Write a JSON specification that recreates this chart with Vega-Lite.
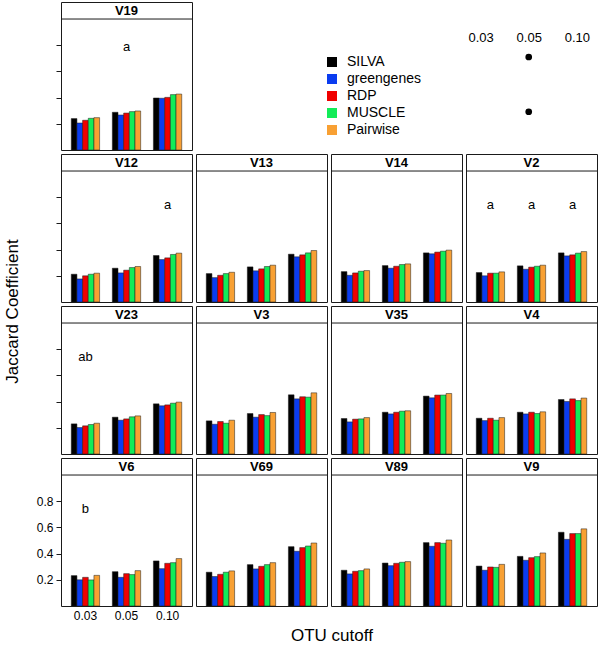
{
"$schema": "https://vega.github.io/schema/vega-lite/v6.json",
"padding": {"left": 3, "top": 1, "right": 3, "bottom": 2},
"config": {
  "font": "Liberation Sans",
  "view": {"stroke": "#1a1a1a", "strokeWidth": 1},
  "legend": {"orient": "none", "legendX": 264, "legendY": 53, "symbolType": "square", "symbolSize": 100, "symbolStrokeWidth": 0, "labelFontSize": 14, "labelColor": "black", "labelOffset": 8, "rowPadding": 3},
  "axis": {"labelColor": "black", "tickColor": "#1a1a1a", "labelFontSize": 12},
  "text": {"color": "black"}
},
"datasets": {
  "bars": [
    {"region":"V19","cutoff":"0.03","method":"SILVA","jaccard":0.240},{"region":"V19","cutoff":"0.03","method":"greengenes","jaccard":0.206},{"region":"V19","cutoff":"0.03","method":"RDP","jaccard":0.227},{"region":"V19","cutoff":"0.03","method":"MUSCLE","jaccard":0.242},{"region":"V19","cutoff":"0.03","method":"Pairwise","jaccard":0.247},
    {"region":"V19","cutoff":"0.05","method":"SILVA","jaccard":0.288},{"region":"V19","cutoff":"0.05","method":"greengenes","jaccard":0.267},{"region":"V19","cutoff":"0.05","method":"RDP","jaccard":0.282},{"region":"V19","cutoff":"0.05","method":"MUSCLE","jaccard":0.293},{"region":"V19","cutoff":"0.05","method":"Pairwise","jaccard":0.298},
    {"region":"V19","cutoff":"0.10","method":"SILVA","jaccard":0.397},{"region":"V19","cutoff":"0.10","method":"greengenes","jaccard":0.395},{"region":"V19","cutoff":"0.10","method":"RDP","jaccard":0.402},{"region":"V19","cutoff":"0.10","method":"MUSCLE","jaccard":0.423},{"region":"V19","cutoff":"0.10","method":"Pairwise","jaccard":0.427},
    {"region":"V12","cutoff":"0.03","method":"SILVA","jaccard":0.212},{"region":"V12","cutoff":"0.03","method":"greengenes","jaccard":0.176},{"region":"V12","cutoff":"0.03","method":"RDP","jaccard":0.200},{"region":"V12","cutoff":"0.03","method":"MUSCLE","jaccard":0.212},{"region":"V12","cutoff":"0.03","method":"Pairwise","jaccard":0.220},
    {"region":"V12","cutoff":"0.05","method":"SILVA","jaccard":0.258},{"region":"V12","cutoff":"0.05","method":"greengenes","jaccard":0.222},{"region":"V12","cutoff":"0.05","method":"RDP","jaccard":0.243},{"region":"V12","cutoff":"0.05","method":"MUSCLE","jaccard":0.263},{"region":"V12","cutoff":"0.05","method":"Pairwise","jaccard":0.271},
    {"region":"V12","cutoff":"0.10","method":"SILVA","jaccard":0.355},{"region":"V12","cutoff":"0.10","method":"greengenes","jaccard":0.324},{"region":"V12","cutoff":"0.10","method":"RDP","jaccard":0.337},{"region":"V12","cutoff":"0.10","method":"MUSCLE","jaccard":0.363},{"region":"V12","cutoff":"0.10","method":"Pairwise","jaccard":0.373},
    {"region":"V13","cutoff":"0.03","method":"SILVA","jaccard":0.217},{"region":"V13","cutoff":"0.03","method":"greengenes","jaccard":0.186},{"region":"V13","cutoff":"0.03","method":"RDP","jaccard":0.204},{"region":"V13","cutoff":"0.03","method":"MUSCLE","jaccard":0.217},{"region":"V13","cutoff":"0.03","method":"Pairwise","jaccard":0.227},
    {"region":"V13","cutoff":"0.05","method":"SILVA","jaccard":0.268},{"region":"V13","cutoff":"0.05","method":"greengenes","jaccard":0.238},{"region":"V13","cutoff":"0.05","method":"RDP","jaccard":0.253},{"region":"V13","cutoff":"0.05","method":"MUSCLE","jaccard":0.271},{"region":"V13","cutoff":"0.05","method":"Pairwise","jaccard":0.281},
    {"region":"V13","cutoff":"0.10","method":"SILVA","jaccard":0.365},{"region":"V13","cutoff":"0.10","method":"greengenes","jaccard":0.345},{"region":"V13","cutoff":"0.10","method":"RDP","jaccard":0.360},{"region":"V13","cutoff":"0.10","method":"MUSCLE","jaccard":0.375},{"region":"V13","cutoff":"0.10","method":"Pairwise","jaccard":0.393},
    {"region":"V14","cutoff":"0.03","method":"SILVA","jaccard":0.232},{"region":"V14","cutoff":"0.03","method":"greengenes","jaccard":0.204},{"region":"V14","cutoff":"0.03","method":"RDP","jaccard":0.222},{"region":"V14","cutoff":"0.03","method":"MUSCLE","jaccard":0.235},{"region":"V14","cutoff":"0.03","method":"Pairwise","jaccard":0.240},
    {"region":"V14","cutoff":"0.05","method":"SILVA","jaccard":0.278},{"region":"V14","cutoff":"0.05","method":"greengenes","jaccard":0.258},{"region":"V14","cutoff":"0.05","method":"RDP","jaccard":0.273},{"region":"V14","cutoff":"0.05","method":"MUSCLE","jaccard":0.286},{"region":"V14","cutoff":"0.05","method":"Pairwise","jaccard":0.291},
    {"region":"V14","cutoff":"0.10","method":"SILVA","jaccard":0.375},{"region":"V14","cutoff":"0.10","method":"greengenes","jaccard":0.368},{"region":"V14","cutoff":"0.10","method":"RDP","jaccard":0.381},{"region":"V14","cutoff":"0.10","method":"MUSCLE","jaccard":0.388},{"region":"V14","cutoff":"0.10","method":"Pairwise","jaccard":0.396},
    {"region":"V2","cutoff":"0.03","method":"SILVA","jaccard":0.225},{"region":"V2","cutoff":"0.03","method":"greengenes","jaccard":0.200},{"region":"V2","cutoff":"0.03","method":"RDP","jaccard":0.220},{"region":"V2","cutoff":"0.03","method":"MUSCLE","jaccard":0.220},{"region":"V2","cutoff":"0.03","method":"Pairwise","jaccard":0.230},
    {"region":"V2","cutoff":"0.05","method":"SILVA","jaccard":0.276},{"region":"V2","cutoff":"0.05","method":"greengenes","jaccard":0.250},{"region":"V2","cutoff":"0.05","method":"RDP","jaccard":0.266},{"region":"V2","cutoff":"0.05","method":"MUSCLE","jaccard":0.273},{"region":"V2","cutoff":"0.05","method":"Pairwise","jaccard":0.281},
    {"region":"V2","cutoff":"0.10","method":"SILVA","jaccard":0.375},{"region":"V2","cutoff":"0.10","method":"greengenes","jaccard":0.352},{"region":"V2","cutoff":"0.10","method":"RDP","jaccard":0.360},{"region":"V2","cutoff":"0.10","method":"MUSCLE","jaccard":0.373},{"region":"V2","cutoff":"0.10","method":"Pairwise","jaccard":0.385},
    {"region":"V23","cutoff":"0.03","method":"SILVA","jaccard":0.230},{"region":"V23","cutoff":"0.03","method":"greengenes","jaccard":0.202},{"region":"V23","cutoff":"0.03","method":"RDP","jaccard":0.215},{"region":"V23","cutoff":"0.03","method":"MUSCLE","jaccard":0.225},{"region":"V23","cutoff":"0.03","method":"Pairwise","jaccard":0.235},
    {"region":"V23","cutoff":"0.05","method":"SILVA","jaccard":0.281},{"region":"V23","cutoff":"0.05","method":"greengenes","jaccard":0.258},{"region":"V23","cutoff":"0.05","method":"RDP","jaccard":0.268},{"region":"V23","cutoff":"0.05","method":"MUSCLE","jaccard":0.284},{"region":"V23","cutoff":"0.05","method":"Pairwise","jaccard":0.291},
    {"region":"V23","cutoff":"0.10","method":"SILVA","jaccard":0.383},{"region":"V23","cutoff":"0.10","method":"greengenes","jaccard":0.368},{"region":"V23","cutoff":"0.10","method":"RDP","jaccard":0.375},{"region":"V23","cutoff":"0.10","method":"MUSCLE","jaccard":0.388},{"region":"V23","cutoff":"0.10","method":"Pairwise","jaccard":0.396},
    {"region":"V3","cutoff":"0.03","method":"SILVA","jaccard":0.253},{"region":"V3","cutoff":"0.03","method":"greengenes","jaccard":0.227},{"region":"V3","cutoff":"0.03","method":"RDP","jaccard":0.248},{"region":"V3","cutoff":"0.03","method":"MUSCLE","jaccard":0.235},{"region":"V3","cutoff":"0.03","method":"Pairwise","jaccard":0.258},
    {"region":"V3","cutoff":"0.05","method":"SILVA","jaccard":0.309},{"region":"V3","cutoff":"0.05","method":"greengenes","jaccard":0.281},{"region":"V3","cutoff":"0.05","method":"RDP","jaccard":0.301},{"region":"V3","cutoff":"0.05","method":"MUSCLE","jaccard":0.293},{"region":"V3","cutoff":"0.05","method":"Pairwise","jaccard":0.317},
    {"region":"V3","cutoff":"0.10","method":"SILVA","jaccard":0.452},{"region":"V3","cutoff":"0.10","method":"greengenes","jaccard":0.421},{"region":"V3","cutoff":"0.10","method":"RDP","jaccard":0.437},{"region":"V3","cutoff":"0.10","method":"MUSCLE","jaccard":0.434},{"region":"V3","cutoff":"0.10","method":"Pairwise","jaccard":0.467},
    {"region":"V35","cutoff":"0.03","method":"SILVA","jaccard":0.271},{"region":"V35","cutoff":"0.03","method":"greengenes","jaccard":0.245},{"region":"V35","cutoff":"0.03","method":"RDP","jaccard":0.266},{"region":"V35","cutoff":"0.03","method":"MUSCLE","jaccard":0.268},{"region":"V35","cutoff":"0.03","method":"Pairwise","jaccard":0.278},
    {"region":"V35","cutoff":"0.05","method":"SILVA","jaccard":0.319},{"region":"V35","cutoff":"0.05","method":"greengenes","jaccard":0.306},{"region":"V35","cutoff":"0.05","method":"RDP","jaccard":0.319},{"region":"V35","cutoff":"0.05","method":"MUSCLE","jaccard":0.327},{"region":"V35","cutoff":"0.05","method":"Pairwise","jaccard":0.330},
    {"region":"V35","cutoff":"0.10","method":"SILVA","jaccard":0.442},{"region":"V35","cutoff":"0.10","method":"greengenes","jaccard":0.429},{"region":"V35","cutoff":"0.10","method":"RDP","jaccard":0.450},{"region":"V35","cutoff":"0.10","method":"MUSCLE","jaccard":0.450},{"region":"V35","cutoff":"0.10","method":"Pairwise","jaccard":0.462},
    {"region":"V4","cutoff":"0.03","method":"SILVA","jaccard":0.273},{"region":"V4","cutoff":"0.03","method":"greengenes","jaccard":0.255},{"region":"V4","cutoff":"0.03","method":"RDP","jaccard":0.273},{"region":"V4","cutoff":"0.03","method":"MUSCLE","jaccard":0.258},{"region":"V4","cutoff":"0.03","method":"Pairwise","jaccard":0.278},
    {"region":"V4","cutoff":"0.05","method":"SILVA","jaccard":0.319},{"region":"V4","cutoff":"0.05","method":"greengenes","jaccard":0.306},{"region":"V4","cutoff":"0.05","method":"RDP","jaccard":0.319},{"region":"V4","cutoff":"0.05","method":"MUSCLE","jaccard":0.309},{"region":"V4","cutoff":"0.05","method":"Pairwise","jaccard":0.322},
    {"region":"V4","cutoff":"0.10","method":"SILVA","jaccard":0.416},{"region":"V4","cutoff":"0.10","method":"greengenes","jaccard":0.401},{"region":"V4","cutoff":"0.10","method":"RDP","jaccard":0.421},{"region":"V4","cutoff":"0.10","method":"MUSCLE","jaccard":0.408},{"region":"V4","cutoff":"0.10","method":"Pairwise","jaccard":0.427},
    {"region":"V6","cutoff":"0.03","method":"SILVA","jaccard":0.232},{"region":"V6","cutoff":"0.03","method":"greengenes","jaccard":0.200},{"region":"V6","cutoff":"0.03","method":"RDP","jaccard":0.219},{"region":"V6","cutoff":"0.03","method":"MUSCLE","jaccard":0.199},{"region":"V6","cutoff":"0.03","method":"Pairwise","jaccard":0.234},
    {"region":"V6","cutoff":"0.05","method":"SILVA","jaccard":0.262},{"region":"V6","cutoff":"0.05","method":"greengenes","jaccard":0.219},{"region":"V6","cutoff":"0.05","method":"RDP","jaccard":0.247},{"region":"V6","cutoff":"0.05","method":"MUSCLE","jaccard":0.240},{"region":"V6","cutoff":"0.05","method":"Pairwise","jaccard":0.270},
    {"region":"V6","cutoff":"0.10","method":"SILVA","jaccard":0.344},{"region":"V6","cutoff":"0.10","method":"greengenes","jaccard":0.285},{"region":"V6","cutoff":"0.10","method":"RDP","jaccard":0.326},{"region":"V6","cutoff":"0.10","method":"MUSCLE","jaccard":0.331},{"region":"V6","cutoff":"0.10","method":"Pairwise","jaccard":0.362},
    {"region":"V69","cutoff":"0.03","method":"SILVA","jaccard":0.258},{"region":"V69","cutoff":"0.03","method":"greengenes","jaccard":0.225},{"region":"V69","cutoff":"0.03","method":"RDP","jaccard":0.242},{"region":"V69","cutoff":"0.03","method":"MUSCLE","jaccard":0.258},{"region":"V69","cutoff":"0.03","method":"Pairwise","jaccard":0.268},
    {"region":"V69","cutoff":"0.05","method":"SILVA","jaccard":0.316},{"region":"V69","cutoff":"0.05","method":"greengenes","jaccard":0.283},{"region":"V69","cutoff":"0.05","method":"RDP","jaccard":0.303},{"region":"V69","cutoff":"0.05","method":"MUSCLE","jaccard":0.316},{"region":"V69","cutoff":"0.05","method":"Pairwise","jaccard":0.331},
    {"region":"V69","cutoff":"0.10","method":"SILVA","jaccard":0.453},{"region":"V69","cutoff":"0.10","method":"greengenes","jaccard":0.418},{"region":"V69","cutoff":"0.10","method":"RDP","jaccard":0.446},{"region":"V69","cutoff":"0.10","method":"MUSCLE","jaccard":0.458},{"region":"V69","cutoff":"0.10","method":"Pairwise","jaccard":0.481},
    {"region":"V89","cutoff":"0.03","method":"SILVA","jaccard":0.273},{"region":"V89","cutoff":"0.03","method":"greengenes","jaccard":0.245},{"region":"V89","cutoff":"0.03","method":"RDP","jaccard":0.265},{"region":"V89","cutoff":"0.03","method":"MUSCLE","jaccard":0.270},{"region":"V89","cutoff":"0.03","method":"Pairwise","jaccard":0.283},
    {"region":"V89","cutoff":"0.05","method":"SILVA","jaccard":0.328},{"region":"V89","cutoff":"0.05","method":"greengenes","jaccard":0.308},{"region":"V89","cutoff":"0.05","method":"RDP","jaccard":0.326},{"region":"V89","cutoff":"0.05","method":"MUSCLE","jaccard":0.334},{"region":"V89","cutoff":"0.05","method":"Pairwise","jaccard":0.339},
    {"region":"V89","cutoff":"0.10","method":"SILVA","jaccard":0.484},{"region":"V89","cutoff":"0.10","method":"greengenes","jaccard":0.456},{"region":"V89","cutoff":"0.10","method":"RDP","jaccard":0.484},{"region":"V89","cutoff":"0.10","method":"MUSCLE","jaccard":0.479},{"region":"V89","cutoff":"0.10","method":"Pairwise","jaccard":0.504},
    {"region":"V9","cutoff":"0.03","method":"SILVA","jaccard":0.305},{"region":"V9","cutoff":"0.03","method":"greengenes","jaccard":0.273},{"region":"V9","cutoff":"0.03","method":"RDP","jaccard":0.298},{"region":"V9","cutoff":"0.03","method":"MUSCLE","jaccard":0.295},{"region":"V9","cutoff":"0.03","method":"Pairwise","jaccard":0.318},
    {"region":"V9","cutoff":"0.05","method":"SILVA","jaccard":0.379},{"region":"V9","cutoff":"0.05","method":"greengenes","jaccard":0.349},{"region":"V9","cutoff":"0.05","method":"RDP","jaccard":0.369},{"region":"V9","cutoff":"0.05","method":"MUSCLE","jaccard":0.377},{"region":"V9","cutoff":"0.05","method":"Pairwise","jaccard":0.405},
    {"region":"V9","cutoff":"0.10","method":"SILVA","jaccard":0.563},{"region":"V9","cutoff":"0.10","method":"greengenes","jaccard":0.509},{"region":"V9","cutoff":"0.10","method":"RDP","jaccard":0.553},{"region":"V9","cutoff":"0.10","method":"MUSCLE","jaccard":0.553},{"region":"V9","cutoff":"0.10","method":"Pairwise","jaccard":0.589}
  ],
  "letters": [
    {"region":"V19","cutoff":"0.05","label":"a"},
    {"region":"V12","cutoff":"0.10","label":"a"},
    {"region":"V2","cutoff":"0.03","label":"a"},
    {"region":"V2","cutoff":"0.05","label":"a"},
    {"region":"V2","cutoff":"0.10","label":"a"},
    {"region":"V23","cutoff":"0.03","label":"ab"},
    {"region":"V6","cutoff":"0.03","label":"b"}
  ],
  "sig": [
    {"method":"SILVA","cutoff":"0.05"},
    {"method":"MUSCLE","cutoff":"0.05"}
  ]
},
"title": {"text": "OTU cutoff", "orient": "bottom", "anchor": "middle", "frame": "bounds", "fontSize": 17, "fontWeight": "normal", "offset": 6, "dx": 31, "color": "black"},
"vconcat": [
{
"title": {"text": "Jaccard Coefficient", "orient": "left", "anchor": "middle", "frame": "bounds", "fontSize": 17, "fontWeight": "normal", "offset": 14, "color": "black"},
"columns": 4,
"spacing": 4,
"bounds": "flush",
"concat": [
{"width":131,"height":148,"data":{"name":"bars"},"transform":[{"filter":"datum.region === 'V19'"}],"layer":[
 {"mark":{"type":"bar","stroke":"#1a1a1a","strokeWidth":0.5},"encoding":{"x":{"field":"cutoff","type":"nominal","sort":["0.03","0.05","0.10"],"scale":{"paddingInner":0.31,"paddingOuter":0.25},"axis":null},"xOffset":{"field":"method","type":"nominal","sort":["SILVA","greengenes","RDP","MUSCLE","Pairwise"],"scale":{"paddingInner":0,"paddingOuter":0}},"y":{"field":"jaccard","type":"quantitative","scale":{"domain":[0,1.13],"nice":false},"axis":{"title":null,"values":[0.2,0.4,0.6,0.8],"domain":false,"grid":false,"tickSize":5,"labels":false}},"color":{"field":"method","type":"nominal","title":null,"scale":{"domain":["SILVA","greengenes","RDP","MUSCLE","Pairwise"],"range":["#000000","#0A3CF0","#F00000","#12EC58","#F8A033"]}}}},
 {"transform":[{"filter":"datum.method === 'SILVA' && datum.cutoff === '0.03'"}],"mark":{"type":"rule","color":"#1a1a1a","strokeWidth":1},"encoding":{"y":{"datum":1}}},
 {"transform":[{"filter":"datum.method === 'SILVA' && datum.cutoff === '0.03'"}],"mark":{"type":"text","fontWeight":"bold","fontSize":13,"baseline":"middle"},"encoding":{"y":{"datum":1.065},"text":{"field":"region"}}},
 {"data":{"name":"letters"},"transform":[{"filter":"datum.region === 'V19'"}],"mark":{"type":"text","fontSize":13,"baseline":"middle"},"encoding":{"x":{"field":"cutoff","type":"nominal","axis":null},"y":{"datum":0.79},"text":{"field":"label"}}}
]},
{"width":131,"height":148,"view":{"stroke":null},"data":{"values":[]},"mark":"point","encoding":{}},
{"width":131,"height":148,"view":{"stroke":null},"data":{"values":[]},"mark":"point","encoding":{}},
{"width":131,"height":148,"view":{"stroke":null},"data":{"name":"sig"},"mark":{"type":"point","filled":true,"color":"black","size":45,"opacity":1},"encoding":{
 "x":{"field":"cutoff","type":"ordinal","scale":{"type":"point","domain":["0.03","0.05","0.10"],"padding":0.36,"align":0.42},"axis":{"orient":"top","offset":-42,"domain":false,"ticks":false,"labelPadding":0,"labelFontSize":13,"title":null,"labelAngle":0}},
 "y":{"field":"method","type":"nominal","scale":{"type":"point","domain":["SILVA","greengenes","RDP","MUSCLE","Pairwise"],"range":[55,128],"padding":0},"axis":null}}},
{"width":131,"height":148,"data":{"name":"bars"},"transform":[{"filter":"datum.region === 'V12'"}],"layer":[
 {"mark":{"type":"bar","stroke":"#1a1a1a","strokeWidth":0.5},"encoding":{"x":{"field":"cutoff","type":"nominal","sort":["0.03","0.05","0.10"],"scale":{"paddingInner":0.31,"paddingOuter":0.25},"axis":null},"xOffset":{"field":"method","type":"nominal","sort":["SILVA","greengenes","RDP","MUSCLE","Pairwise"],"scale":{"paddingInner":0,"paddingOuter":0}},"y":{"field":"jaccard","type":"quantitative","scale":{"domain":[0,1.13],"nice":false},"axis":{"title":null,"values":[0.2,0.4,0.6,0.8],"domain":false,"grid":false,"tickSize":5,"labels":false}},"color":{"field":"method","type":"nominal","title":null,"scale":{"domain":["SILVA","greengenes","RDP","MUSCLE","Pairwise"],"range":["#000000","#0A3CF0","#F00000","#12EC58","#F8A033"]}}}},
 {"transform":[{"filter":"datum.method === 'SILVA' && datum.cutoff === '0.03'"}],"mark":{"type":"rule","color":"#1a1a1a","strokeWidth":1},"encoding":{"y":{"datum":1}}},
 {"transform":[{"filter":"datum.method === 'SILVA' && datum.cutoff === '0.03'"}],"mark":{"type":"text","fontWeight":"bold","fontSize":13,"baseline":"middle"},"encoding":{"y":{"datum":1.065},"text":{"field":"region"}}},
 {"data":{"name":"letters"},"transform":[{"filter":"datum.region === 'V12'"}],"mark":{"type":"text","fontSize":13,"baseline":"middle"},"encoding":{"x":{"field":"cutoff","type":"nominal","axis":null},"y":{"datum":0.74},"text":{"field":"label"}}}
]},
{"width":131,"height":148,"data":{"name":"bars"},"transform":[{"filter":"datum.region === 'V13'"}],"layer":[
 {"mark":{"type":"bar","stroke":"#1a1a1a","strokeWidth":0.5},"encoding":{"x":{"field":"cutoff","type":"nominal","sort":["0.03","0.05","0.10"],"scale":{"paddingInner":0.31,"paddingOuter":0.25},"axis":null},"xOffset":{"field":"method","type":"nominal","sort":["SILVA","greengenes","RDP","MUSCLE","Pairwise"],"scale":{"paddingInner":0,"paddingOuter":0}},"y":{"field":"jaccard","type":"quantitative","scale":{"domain":[0,1.13],"nice":false},"axis":null},"color":{"field":"method","type":"nominal","title":null,"scale":{"domain":["SILVA","greengenes","RDP","MUSCLE","Pairwise"],"range":["#000000","#0A3CF0","#F00000","#12EC58","#F8A033"]}}}},
 {"transform":[{"filter":"datum.method === 'SILVA' && datum.cutoff === '0.03'"}],"mark":{"type":"rule","color":"#1a1a1a","strokeWidth":1},"encoding":{"y":{"datum":1,"axis":null}}},
 {"transform":[{"filter":"datum.method === 'SILVA' && datum.cutoff === '0.03'"}],"mark":{"type":"text","fontWeight":"bold","fontSize":13,"baseline":"middle"},"encoding":{"y":{"datum":1.065,"axis":null},"text":{"field":"region"}}}
]},
{"width":131,"height":148,"data":{"name":"bars"},"transform":[{"filter":"datum.region === 'V14'"}],"layer":[
 {"mark":{"type":"bar","stroke":"#1a1a1a","strokeWidth":0.5},"encoding":{"x":{"field":"cutoff","type":"nominal","sort":["0.03","0.05","0.10"],"scale":{"paddingInner":0.31,"paddingOuter":0.25},"axis":null},"xOffset":{"field":"method","type":"nominal","sort":["SILVA","greengenes","RDP","MUSCLE","Pairwise"],"scale":{"paddingInner":0,"paddingOuter":0}},"y":{"field":"jaccard","type":"quantitative","scale":{"domain":[0,1.13],"nice":false},"axis":null},"color":{"field":"method","type":"nominal","title":null,"scale":{"domain":["SILVA","greengenes","RDP","MUSCLE","Pairwise"],"range":["#000000","#0A3CF0","#F00000","#12EC58","#F8A033"]}}}},
 {"transform":[{"filter":"datum.method === 'SILVA' && datum.cutoff === '0.03'"}],"mark":{"type":"rule","color":"#1a1a1a","strokeWidth":1},"encoding":{"y":{"datum":1,"axis":null}}},
 {"transform":[{"filter":"datum.method === 'SILVA' && datum.cutoff === '0.03'"}],"mark":{"type":"text","fontWeight":"bold","fontSize":13,"baseline":"middle"},"encoding":{"y":{"datum":1.065,"axis":null},"text":{"field":"region"}}}
]},
{"width":131,"height":148,"data":{"name":"bars"},"transform":[{"filter":"datum.region === 'V2'"}],"layer":[
 {"mark":{"type":"bar","stroke":"#1a1a1a","strokeWidth":0.5},"encoding":{"x":{"field":"cutoff","type":"nominal","sort":["0.03","0.05","0.10"],"scale":{"paddingInner":0.31,"paddingOuter":0.25},"axis":null},"xOffset":{"field":"method","type":"nominal","sort":["SILVA","greengenes","RDP","MUSCLE","Pairwise"],"scale":{"paddingInner":0,"paddingOuter":0}},"y":{"field":"jaccard","type":"quantitative","scale":{"domain":[0,1.13],"nice":false},"axis":null},"color":{"field":"method","type":"nominal","title":null,"scale":{"domain":["SILVA","greengenes","RDP","MUSCLE","Pairwise"],"range":["#000000","#0A3CF0","#F00000","#12EC58","#F8A033"]}}}},
 {"transform":[{"filter":"datum.method === 'SILVA' && datum.cutoff === '0.03'"}],"mark":{"type":"rule","color":"#1a1a1a","strokeWidth":1},"encoding":{"y":{"datum":1,"axis":null}}},
 {"transform":[{"filter":"datum.method === 'SILVA' && datum.cutoff === '0.03'"}],"mark":{"type":"text","fontWeight":"bold","fontSize":13,"baseline":"middle"},"encoding":{"y":{"datum":1.065,"axis":null},"text":{"field":"region"}}},
 {"data":{"name":"letters"},"transform":[{"filter":"datum.region === 'V2'"}],"mark":{"type":"text","fontSize":13,"baseline":"middle"},"encoding":{"x":{"field":"cutoff","type":"nominal","axis":null},"y":{"datum":0.74,"axis":null},"text":{"field":"label"}}}
]},
{"width":131,"height":148,"data":{"name":"bars"},"transform":[{"filter":"datum.region === 'V23'"}],"layer":[
 {"mark":{"type":"bar","stroke":"#1a1a1a","strokeWidth":0.5},"encoding":{"x":{"field":"cutoff","type":"nominal","sort":["0.03","0.05","0.10"],"scale":{"paddingInner":0.31,"paddingOuter":0.25},"axis":null},"xOffset":{"field":"method","type":"nominal","sort":["SILVA","greengenes","RDP","MUSCLE","Pairwise"],"scale":{"paddingInner":0,"paddingOuter":0}},"y":{"field":"jaccard","type":"quantitative","scale":{"domain":[0,1.13],"nice":false},"axis":{"title":null,"values":[0.2,0.4,0.6,0.8],"domain":false,"grid":false,"tickSize":5,"labels":false}},"color":{"field":"method","type":"nominal","title":null,"scale":{"domain":["SILVA","greengenes","RDP","MUSCLE","Pairwise"],"range":["#000000","#0A3CF0","#F00000","#12EC58","#F8A033"]}}}},
 {"transform":[{"filter":"datum.method === 'SILVA' && datum.cutoff === '0.03'"}],"mark":{"type":"rule","color":"#1a1a1a","strokeWidth":1},"encoding":{"y":{"datum":1}}},
 {"transform":[{"filter":"datum.method === 'SILVA' && datum.cutoff === '0.03'"}],"mark":{"type":"text","fontWeight":"bold","fontSize":13,"baseline":"middle"},"encoding":{"y":{"datum":1.065},"text":{"field":"region"}}},
 {"data":{"name":"letters"},"transform":[{"filter":"datum.region === 'V23'"}],"mark":{"type":"text","fontSize":13,"baseline":"middle"},"encoding":{"x":{"field":"cutoff","type":"nominal","axis":null},"y":{"datum":0.74},"text":{"field":"label"}}}
]},
{"width":131,"height":148,"data":{"name":"bars"},"transform":[{"filter":"datum.region === 'V3'"}],"layer":[
 {"mark":{"type":"bar","stroke":"#1a1a1a","strokeWidth":0.5},"encoding":{"x":{"field":"cutoff","type":"nominal","sort":["0.03","0.05","0.10"],"scale":{"paddingInner":0.31,"paddingOuter":0.25},"axis":null},"xOffset":{"field":"method","type":"nominal","sort":["SILVA","greengenes","RDP","MUSCLE","Pairwise"],"scale":{"paddingInner":0,"paddingOuter":0}},"y":{"field":"jaccard","type":"quantitative","scale":{"domain":[0,1.13],"nice":false},"axis":null},"color":{"field":"method","type":"nominal","title":null,"scale":{"domain":["SILVA","greengenes","RDP","MUSCLE","Pairwise"],"range":["#000000","#0A3CF0","#F00000","#12EC58","#F8A033"]}}}},
 {"transform":[{"filter":"datum.method === 'SILVA' && datum.cutoff === '0.03'"}],"mark":{"type":"rule","color":"#1a1a1a","strokeWidth":1},"encoding":{"y":{"datum":1,"axis":null}}},
 {"transform":[{"filter":"datum.method === 'SILVA' && datum.cutoff === '0.03'"}],"mark":{"type":"text","fontWeight":"bold","fontSize":13,"baseline":"middle"},"encoding":{"y":{"datum":1.065,"axis":null},"text":{"field":"region"}}}
]},
{"width":131,"height":148,"data":{"name":"bars"},"transform":[{"filter":"datum.region === 'V35'"}],"layer":[
 {"mark":{"type":"bar","stroke":"#1a1a1a","strokeWidth":0.5},"encoding":{"x":{"field":"cutoff","type":"nominal","sort":["0.03","0.05","0.10"],"scale":{"paddingInner":0.31,"paddingOuter":0.25},"axis":null},"xOffset":{"field":"method","type":"nominal","sort":["SILVA","greengenes","RDP","MUSCLE","Pairwise"],"scale":{"paddingInner":0,"paddingOuter":0}},"y":{"field":"jaccard","type":"quantitative","scale":{"domain":[0,1.13],"nice":false},"axis":null},"color":{"field":"method","type":"nominal","title":null,"scale":{"domain":["SILVA","greengenes","RDP","MUSCLE","Pairwise"],"range":["#000000","#0A3CF0","#F00000","#12EC58","#F8A033"]}}}},
 {"transform":[{"filter":"datum.method === 'SILVA' && datum.cutoff === '0.03'"}],"mark":{"type":"rule","color":"#1a1a1a","strokeWidth":1},"encoding":{"y":{"datum":1,"axis":null}}},
 {"transform":[{"filter":"datum.method === 'SILVA' && datum.cutoff === '0.03'"}],"mark":{"type":"text","fontWeight":"bold","fontSize":13,"baseline":"middle"},"encoding":{"y":{"datum":1.065,"axis":null},"text":{"field":"region"}}}
]},
{"width":131,"height":148,"data":{"name":"bars"},"transform":[{"filter":"datum.region === 'V4'"}],"layer":[
 {"mark":{"type":"bar","stroke":"#1a1a1a","strokeWidth":0.5},"encoding":{"x":{"field":"cutoff","type":"nominal","sort":["0.03","0.05","0.10"],"scale":{"paddingInner":0.31,"paddingOuter":0.25},"axis":null},"xOffset":{"field":"method","type":"nominal","sort":["SILVA","greengenes","RDP","MUSCLE","Pairwise"],"scale":{"paddingInner":0,"paddingOuter":0}},"y":{"field":"jaccard","type":"quantitative","scale":{"domain":[0,1.13],"nice":false},"axis":null},"color":{"field":"method","type":"nominal","title":null,"scale":{"domain":["SILVA","greengenes","RDP","MUSCLE","Pairwise"],"range":["#000000","#0A3CF0","#F00000","#12EC58","#F8A033"]}}}},
 {"transform":[{"filter":"datum.method === 'SILVA' && datum.cutoff === '0.03'"}],"mark":{"type":"rule","color":"#1a1a1a","strokeWidth":1},"encoding":{"y":{"datum":1,"axis":null}}},
 {"transform":[{"filter":"datum.method === 'SILVA' && datum.cutoff === '0.03'"}],"mark":{"type":"text","fontWeight":"bold","fontSize":13,"baseline":"middle"},"encoding":{"y":{"datum":1.065,"axis":null},"text":{"field":"region"}}}
]},
{"width":131,"height":148,"data":{"name":"bars"},"transform":[{"filter":"datum.region === 'V6'"}],"layer":[
 {"mark":{"type":"bar","stroke":"#1a1a1a","strokeWidth":0.5},"encoding":{"x":{"field":"cutoff","type":"nominal","sort":["0.03","0.05","0.10"],"scale":{"paddingInner":0.31,"paddingOuter":0.25},"axis":{"title":null,"labelAngle":0,"domain":false,"ticks":false,"labelPadding":4,"labelFontSize":12}},"xOffset":{"field":"method","type":"nominal","sort":["SILVA","greengenes","RDP","MUSCLE","Pairwise"],"scale":{"paddingInner":0,"paddingOuter":0}},"y":{"field":"jaccard","type":"quantitative","scale":{"domain":[0,1.13],"nice":false},"axis":{"title":null,"values":[0.2,0.4,0.6,0.8],"domain":false,"grid":false,"tickSize":5,"labels":true,"labelPadding":3,"labelFontSize":12}},"color":{"field":"method","type":"nominal","title":null,"scale":{"domain":["SILVA","greengenes","RDP","MUSCLE","Pairwise"],"range":["#000000","#0A3CF0","#F00000","#12EC58","#F8A033"]}}}},
 {"transform":[{"filter":"datum.method === 'SILVA' && datum.cutoff === '0.03'"}],"mark":{"type":"rule","color":"#1a1a1a","strokeWidth":1},"encoding":{"y":{"datum":1}}},
 {"transform":[{"filter":"datum.method === 'SILVA' && datum.cutoff === '0.03'"}],"mark":{"type":"text","fontWeight":"bold","fontSize":13,"baseline":"middle"},"encoding":{"y":{"datum":1.065},"text":{"field":"region"}}},
 {"data":{"name":"letters"},"transform":[{"filter":"datum.region === 'V6'"}],"mark":{"type":"text","fontSize":13,"baseline":"middle"},"encoding":{"x":{"field":"cutoff","type":"nominal","title":null},"y":{"datum":0.74},"text":{"field":"label"}}}
]},
{"width":131,"height":148,"data":{"name":"bars"},"transform":[{"filter":"datum.region === 'V69'"}],"layer":[
 {"mark":{"type":"bar","stroke":"#1a1a1a","strokeWidth":0.5},"encoding":{"x":{"field":"cutoff","type":"nominal","sort":["0.03","0.05","0.10"],"scale":{"paddingInner":0.31,"paddingOuter":0.25},"axis":null},"xOffset":{"field":"method","type":"nominal","sort":["SILVA","greengenes","RDP","MUSCLE","Pairwise"],"scale":{"paddingInner":0,"paddingOuter":0}},"y":{"field":"jaccard","type":"quantitative","scale":{"domain":[0,1.13],"nice":false},"axis":null},"color":{"field":"method","type":"nominal","title":null,"scale":{"domain":["SILVA","greengenes","RDP","MUSCLE","Pairwise"],"range":["#000000","#0A3CF0","#F00000","#12EC58","#F8A033"]}}}},
 {"transform":[{"filter":"datum.method === 'SILVA' && datum.cutoff === '0.03'"}],"mark":{"type":"rule","color":"#1a1a1a","strokeWidth":1},"encoding":{"y":{"datum":1,"axis":null}}},
 {"transform":[{"filter":"datum.method === 'SILVA' && datum.cutoff === '0.03'"}],"mark":{"type":"text","fontWeight":"bold","fontSize":13,"baseline":"middle"},"encoding":{"y":{"datum":1.065,"axis":null},"text":{"field":"region"}}}
]},
{"width":131,"height":148,"data":{"name":"bars"},"transform":[{"filter":"datum.region === 'V89'"}],"layer":[
 {"mark":{"type":"bar","stroke":"#1a1a1a","strokeWidth":0.5},"encoding":{"x":{"field":"cutoff","type":"nominal","sort":["0.03","0.05","0.10"],"scale":{"paddingInner":0.31,"paddingOuter":0.25},"axis":null},"xOffset":{"field":"method","type":"nominal","sort":["SILVA","greengenes","RDP","MUSCLE","Pairwise"],"scale":{"paddingInner":0,"paddingOuter":0}},"y":{"field":"jaccard","type":"quantitative","scale":{"domain":[0,1.13],"nice":false},"axis":null},"color":{"field":"method","type":"nominal","title":null,"scale":{"domain":["SILVA","greengenes","RDP","MUSCLE","Pairwise"],"range":["#000000","#0A3CF0","#F00000","#12EC58","#F8A033"]}}}},
 {"transform":[{"filter":"datum.method === 'SILVA' && datum.cutoff === '0.03'"}],"mark":{"type":"rule","color":"#1a1a1a","strokeWidth":1},"encoding":{"y":{"datum":1,"axis":null}}},
 {"transform":[{"filter":"datum.method === 'SILVA' && datum.cutoff === '0.03'"}],"mark":{"type":"text","fontWeight":"bold","fontSize":13,"baseline":"middle"},"encoding":{"y":{"datum":1.065,"axis":null},"text":{"field":"region"}}}
]},
{"width":131,"height":148,"data":{"name":"bars"},"transform":[{"filter":"datum.region === 'V9'"}],"layer":[
 {"mark":{"type":"bar","stroke":"#1a1a1a","strokeWidth":0.5},"encoding":{"x":{"field":"cutoff","type":"nominal","sort":["0.03","0.05","0.10"],"scale":{"paddingInner":0.31,"paddingOuter":0.25},"axis":null},"xOffset":{"field":"method","type":"nominal","sort":["SILVA","greengenes","RDP","MUSCLE","Pairwise"],"scale":{"paddingInner":0,"paddingOuter":0}},"y":{"field":"jaccard","type":"quantitative","scale":{"domain":[0,1.13],"nice":false},"axis":null},"color":{"field":"method","type":"nominal","title":null,"scale":{"domain":["SILVA","greengenes","RDP","MUSCLE","Pairwise"],"range":["#000000","#0A3CF0","#F00000","#12EC58","#F8A033"]}}}},
 {"transform":[{"filter":"datum.method === 'SILVA' && datum.cutoff === '0.03'"}],"mark":{"type":"rule","color":"#1a1a1a","strokeWidth":1},"encoding":{"y":{"datum":1,"axis":null}}},
 {"transform":[{"filter":"datum.method === 'SILVA' && datum.cutoff === '0.03'"}],"mark":{"type":"text","fontWeight":"bold","fontSize":13,"baseline":"middle"},"encoding":{"y":{"datum":1.065,"axis":null},"text":{"field":"region"}}}
]}
]
}
]
}
